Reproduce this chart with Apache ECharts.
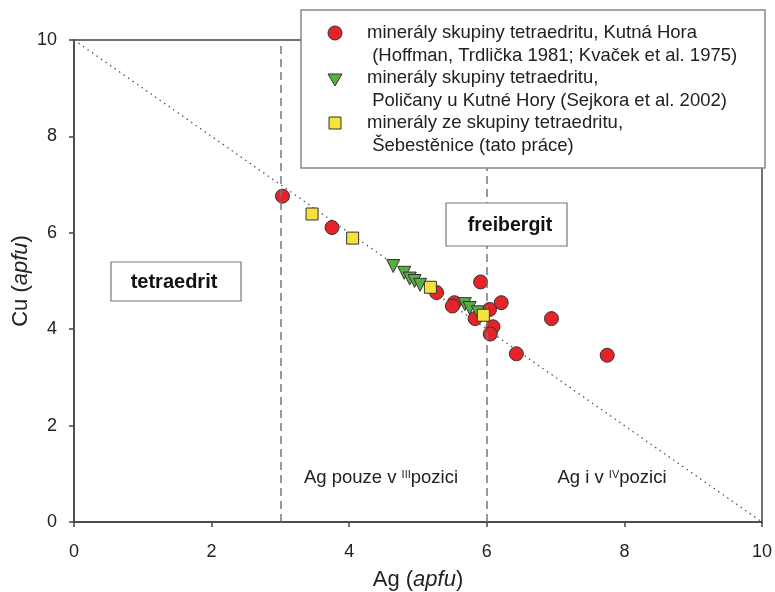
<!DOCTYPE html>
<html lang="cs">
  <head>
    <meta charset="UTF-8" />
    <title>Cu vs Ag</title>
    <script src="https://cdn.jsdelivr.net/npm/echarts@6/dist/echarts.min.js"></script>
    <style>
      html, body { margin: 0; padding: 0; background: #fff; }
    </style>
  </head>
  <body>
    <div id="main" style="width: 775px; height: 592px"></div>

    <script>
      const myChart = echarts.init(document.getElementById("main"));

      // Kutná Hora (Hoffman, Trdlička 1981; Kvaček et al. 1975)
      var kutnaHora = [
        [3.03, 6.76], [3.75, 6.11], [5.27, 4.76], [5.53, 4.55], [5.50, 4.48],
        [5.91, 4.98], [6.21, 4.55], [6.04, 4.41], [5.83, 4.22], [6.09, 4.05],
        [6.05, 3.90], [6.43, 3.49], [6.94, 4.22], [7.75, 3.46]
      ];
      // Poličany u Kutné Hory (Sejkora et al. 2002)
      var policany = [
        [4.64, 5.31], [4.80, 5.17], [4.88, 5.05], [4.95, 5.00], [5.03, 4.92],
        [5.68, 4.52], [5.75, 4.44], [5.87, 4.35]
      ];
      // Šebestěnice (tato práce)
      var sebestenice = [[3.46, 6.39], [4.05, 5.89], [5.18, 4.87], [5.95, 4.29]];

      var boundaryLine = [[0, 10], [10, 0]];
      var fieldLimits = [3, 6];

      var FONT = "Liberation Sans";
      var txt = "#222";

      var nameRich = {
        n: { fontSize: 22, color: txt, fontFamily: FONT },
        i: { fontSize: 22, color: txt, fontFamily: FONT, fontStyle: "italic" },
      };
      var annRich = {
        n: { fontSize: 18.5, fontFamily: FONT, fill: txt, lineHeight: 22, verticalAlign: "bottom" },
        s: { fontSize: 11, fontFamily: FONT, fill: txt, lineHeight: 22, verticalAlign: "bottom", padding: [0, 0, 7, 0] },
      };

      var options = {
        animation: false,
        textStyle: { fontFamily: FONT },
        grid: {
          left: 74, right: 13, top: 40, bottom: 70,
          outerBoundsMode: "none",
          containLabel: false,
          show: true, borderColor: "#444", borderWidth: 1.5,
        },
        xAxis: {
          type: "value",
          min: 0, max: 10, interval: 2,
          name: "{n|Ag (}{i|apfu}{n|)}",
          nameLocation: "middle",
          nameGap: 47,
          nameMoveOverlap: false,
          nameTextStyle: { rich: nameRich },
          axisLine: { lineStyle: { color: "#444", width: 1.5 } },
          axisTick: { show: true, length: 5, lineStyle: { color: "#444", width: 1.5 } },
          axisLabel: { fontSize: 18, color: txt, margin: 21 },
          splitLine: { show: false },
        },
        yAxis: {
          type: "value",
          min: 0, max: 10, interval: 2,
          name: "{n|Cu (}{i|apfu}{n|)}",
          nameLocation: "middle",
          nameGap: 42,
          nameMoveOverlap: false,
          nameTextStyle: { rich: nameRich },
          axisLine: { show: true, lineStyle: { color: "#444", width: 1.5 } },
          axisTick: { show: true, length: 5, lineStyle: { color: "#444", width: 1.5 } },
          axisLabel: { fontSize: 18, color: txt, margin: 17 },
          splitLine: { show: false },
        },
        series: [
          {
            type: "line",
            data: boundaryLine,
            symbol: "none",
            silent: true,
            lineStyle: { color: "#555", width: 1.3, type: [1.5, 4] },
            markLine: {
              silent: true,
              symbol: "none",
              label: { show: false },
              lineStyle: { color: "#777", width: 1.5, type: [8, 5] },
              data: fieldLimits.map((v) => ({ xAxis: v })),
            },
            z: 1,
          },
          {
            name: "Kutná Hora",
            type: "scatter",
            data: kutnaHora,
            symbol: "circle",
            symbolSize: 14,
            itemStyle: { color: "#e5242a", borderColor: "#333", borderWidth: 1, opacity: 1 },
            z: 3,
          },
          {
            name: "Poličany",
            type: "scatter",
            data: policany,
            symbol: "triangle",
            symbolRotate: 180,
            symbolSize: 13,
            itemStyle: { color: "#5aad45", borderColor: "#333", borderWidth: 1, opacity: 1 },
            z: 4,
          },
          {
            name: "Šebestěnice",
            type: "scatter",
            data: sebestenice,
            symbol: "rect",
            symbolSize: 12,
            itemStyle: { color: "#f5e33a", borderColor: "#333", borderWidth: 1, opacity: 1 },
            z: 5,
          },
        ],
        graphic: [
          // legenda
          {
            type: "rect", z: 100,
            shape: { x: 301, y: 10, width: 464, height: 158 },
            style: { fill: "#fff", stroke: "#888", lineWidth: 1.5 },
          },
          {
            type: "circle", z: 101,
            shape: { cx: 335, cy: 33, r: 7 },
            style: { fill: "#e5242a", stroke: "#333", lineWidth: 1 },
          },
          {
            type: "polygon", z: 101,
            shape: { points: [[328, 74], [342, 74], [335, 86]] },
            style: { fill: "#5aad45", stroke: "#333", lineWidth: 1 },
          },
          {
            type: "rect", z: 101,
            shape: { x: 329, y: 117, width: 12, height: 12 },
            style: { fill: "#f5e33a", stroke: "#333", lineWidth: 1 },
          },
          {
            type: "text", z: 101, left: 367, top: 22,
            style: {
              text: "minerály skupiny tetraedritu, Kutná Hora\n (Hoffman, Trdlička 1981; Kvaček et al. 1975)\nminerály skupiny tetraedritu,\n Poličany u Kutné Hory (Sejkora et al. 2002)\nminerály ze skupiny tetraedritu,\n Šebestěnice (tato práce)",
              font: "18.5px " + FONT,
              fill: txt,
              lineHeight: 22.5,
            },
          },
          // pole
          {
            type: "rect", z: 50,
            shape: { x: 111, y: 262, width: 130, height: 39 },
            style: { fill: "#fff", stroke: "#777", lineWidth: 1.2 },
          },
          {
            type: "text", z: 51, x: 174, y: 282,
            style: {
              text: "tetraedrit", font: "bold 20px " + FONT, fill: "#111",
              textAlign: "center", textVerticalAlign: "middle",
            },
          },
          {
            type: "rect", z: 50,
            shape: { x: 446, y: 203, width: 121, height: 43 },
            style: { fill: "#fff", stroke: "#777", lineWidth: 1.2 },
          },
          {
            type: "text", z: 51, x: 510, y: 226,
            style: {
              text: "freibergit", font: "bold 19.5px " + FONT, fill: "#111",
              textAlign: "center", textVerticalAlign: "middle",
            },
          },
          {
            type: "text", z: 51, x: 381, y: 476,
            style: {
              text: "{n|Ag pouze v }{s|III}{n|pozici}",
              textAlign: "center", textVerticalAlign: "middle",
              rich: annRich,
            },
          },
          {
            type: "text", z: 51, x: 612, y: 476,
            style: {
              text: "{n|Ag i v }{s|IV}{n|pozici}",
              textAlign: "center", textVerticalAlign: "middle",
              rich: annRich,
            },
          },
        ],
      };

      myChart.setOption(options);
    </script>
  </body>
</html>
